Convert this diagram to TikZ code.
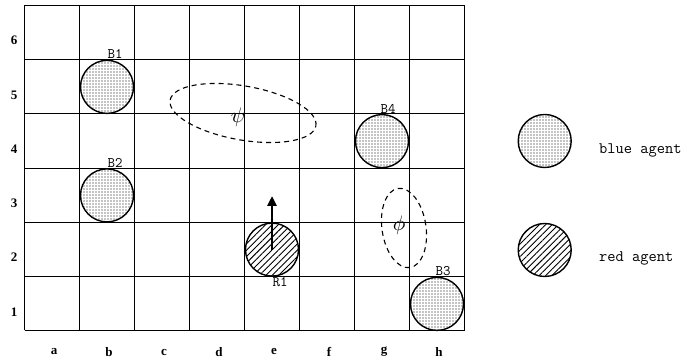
\documentclass[tikz,border=0pt]{standalone}
\usepackage{fontspec}
\setmainfont{Liberation Serif}
\usetikzlibrary{patterns.meta,shapes.geometric,arrows.meta}
\begin{document}
\begin{tikzpicture}[x=1pt,y=1pt,
  gridline/.style={line width=1.2pt},
  blueagent/.style={circle, draw, line width=1.4pt, minimum size=53pt, inner sep=0pt,
    pattern={Dots[distance=3pt,radius=0.6pt]}},
  redagent/.style={circle, draw, line width=1.4pt, minimum size=53pt, inner sep=0pt,
    pattern={Lines[distance=4.5pt,angle=45,line width=0.9pt]}},
  agentlabel/.style={font=\fontsize{14.5}{14.5}\ttfamily, inner sep=0.5pt},
  axislabel/.style={font=\fontsize{13}{13}\bfseries, inner sep=0pt},
  region/.style={draw, ellipse, dash pattern=on 5pt off 4pt, line width=1.1pt, inner sep=0pt},
  greek/.style={inner sep=0pt},
  legendtext/.style={font=\fontsize{16}{16}\ttfamily, anchor=west, inner sep=0pt}
]
\useasboundingbox (0,0) rectangle (687,363);

% grid
\foreach \i in {0,...,8} \draw[gridline] ({24.5+55*\i},32.5) -- ({24.5+55*\i},357.5);
\foreach \y in {32.5,86.5,140.5,194.5,249.5,303.5,357.5} \draw[gridline] (24.5,\y) -- (464.5,\y);

% axis labels
\foreach \l [count=\i] in {a,b,c,d,e,f,g,h}
  \node[axislabel] (col\l) at ({-1+55*\i}, 11) {\l};
\foreach \r in {1,...,6}
  \node[axislabel] (row\r) at (14, {4.875+54.25*\r-8}) {\r};

% regions
\node[region, minimum width=148pt, minimum height=54pt, rotate=-10] (psi) at (243,250) {};
\node[greek] (psilabel) at (238,246) {\scalebox{2.1}{$\psi$}};
\node[region, minimum width=44pt, minimum height=80pt, rotate=8.5] (phi) at (404,135) {};
\node[greek] (philabel) at (399,138) {\scalebox{2.1}{$\phi$}};

% agents
\node[blueagent] (B1) at (107,276.1) {};
\node[blueagent] (B2) at (107,167.6) {};
\node[blueagent] (B4) at (382,221.9) {};
\node[blueagent] (B3) at (437,59.1) {};
\node[redagent] (R1) at (272,113.4) {};

\node[agentlabel, anchor=south, xshift=8pt] (lB1) at (B1.north) {B1};
\node[agentlabel, anchor=south, xshift=8pt] (lB2) at (B2.north) {B2};
\node[agentlabel, anchor=south, xshift=6pt] (lB4) at (B4.north) {B4};
\node[agentlabel, anchor=south, xshift=6pt] (lB3) at (B3.north) {B3};
\node[agentlabel, anchor=north, xshift=8pt] (lR1) at (R1.south) {R1};

% heading arrow
\coordinate (R1tip) at (272,167);
\draw[line width=2.6pt, -{Triangle[width=9pt,length=10pt]}] (R1.center) -- (R1tip);

% legend
\node[blueagent] (Lblue) at (544.7,222) {};
\node[legendtext] (Lbluetext) at (599,213) {blue agent};
\node[redagent] (Lred) at (544.7,113) {};
\node[legendtext] (Lredtext) at (599,105) {red agent};
\end{tikzpicture}
\end{document}
